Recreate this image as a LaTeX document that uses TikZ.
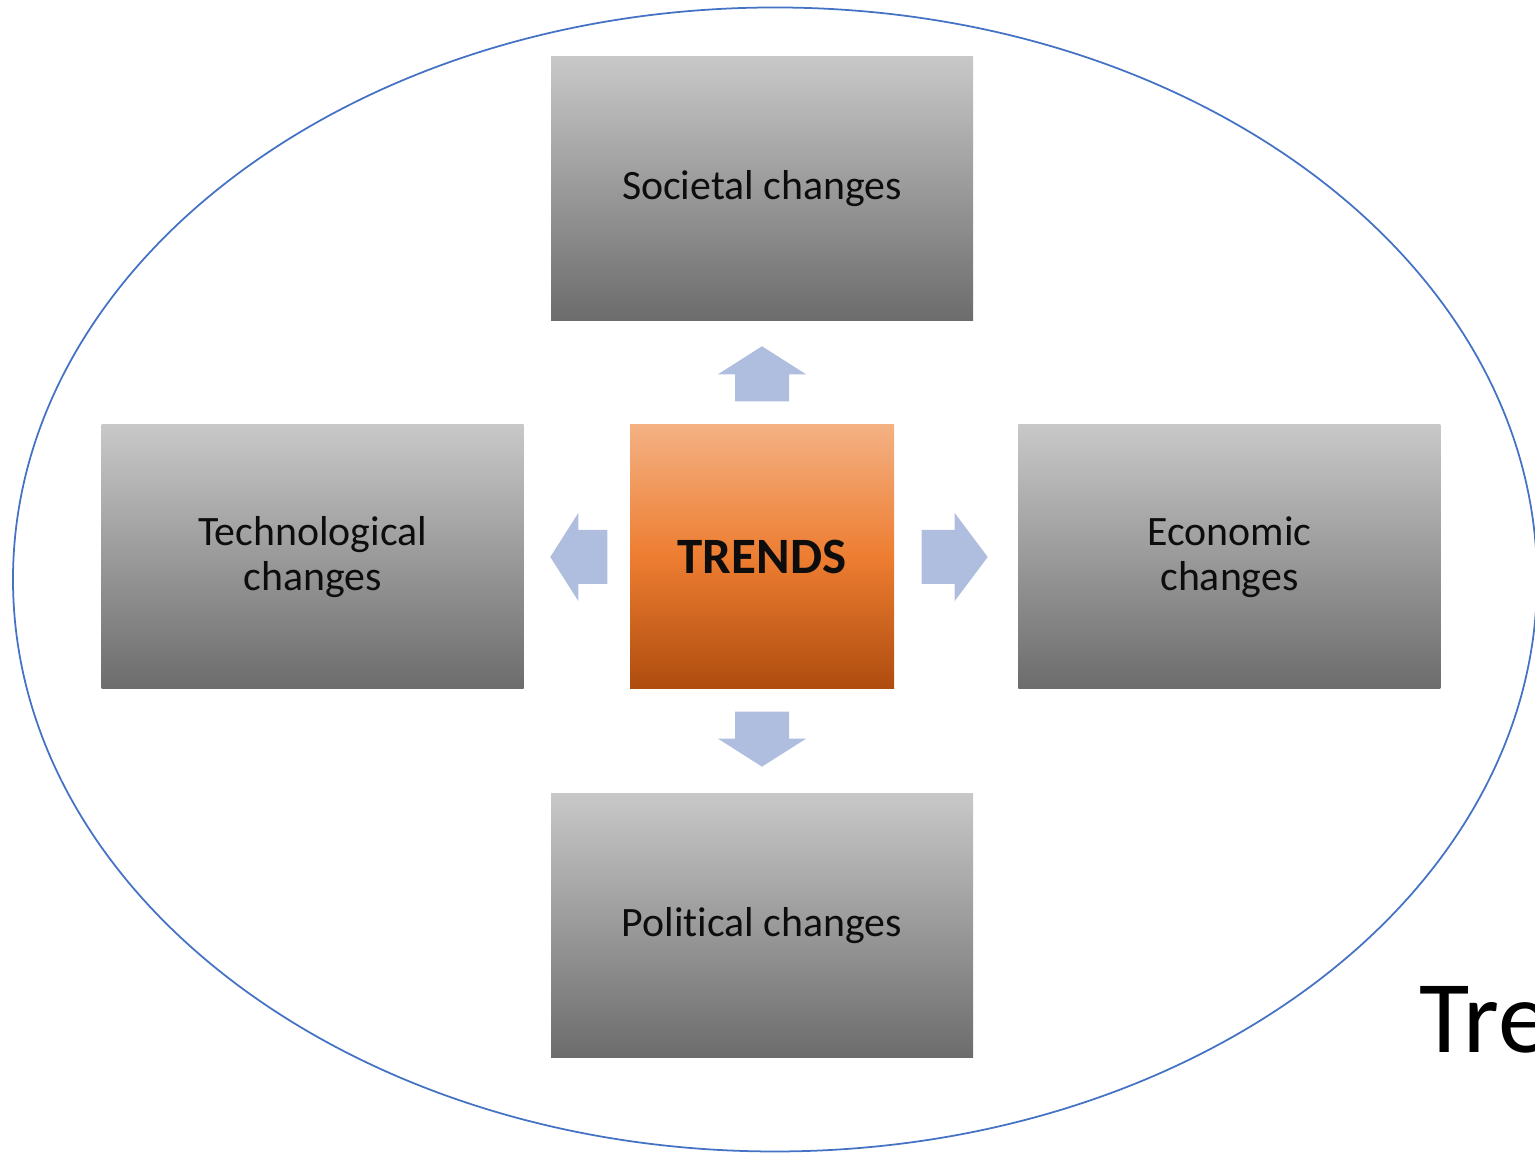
\documentclass[tikz,border=0pt]{standalone}
\usepackage{fontspec}
\setmainfont{Carlito}[Ligatures=NoCommon]
\usetikzlibrary{positioning,calc}
\definecolor{boxTop}{RGB}{200,200,200}
\definecolor{boxBottom}{RGB}{108,108,108}
\definecolor{trTop}{RGB}{244,177,131}
\definecolor{trMid}{RGB}{237,125,49}
\definecolor{trBottom}{RGB}{174,76,14}
\definecolor{arrowBlue}{RGB}{175,189,223}
\definecolor{ringBlue}{RGB}{68,114,196}
\definecolor{ink}{RGB}{13,13,13}
% block arrow: base point, angle, length, head length
\newcommand{\blockArrow}[4]{%
  \fill[arrowBlue, shift={#1}, rotate=#2]
    (0,-0.27) -- ({#3-#4},-0.27) -- ({#3-#4},-0.44) -- (#3,0)
    -- ({#3-#4},0.44) -- ({#3-#4},0.27) -- (0,0.27) -- cycle;}

\begin{document}
\begin{tikzpicture}
  \tikzset{change/.style={minimum width=4.22cm, minimum height=2.64cm, inner sep=0pt,
      align=center, text=ink, top color=boxTop, bottom color=boxBottom,
      font=\fontsize{11.9}{12.8}\selectfont},
    trend/.style={minimum width=2.64cm, minimum height=2.64cm, inner sep=0pt,
      text=ink, top color=trTop, bottom color=trBottom, middle color=trMid,
      font=\fontsize{14.5}{16}\selectfont\bfseries}}
  \useasboundingbox (0,0) rectangle (15.35,11.53);
  \clip (0,0) rectangle (15.35,11.53);
  \draw[ringBlue, line width=0.5pt] (7.75,5.735) ellipse [x radius=7.62cm, y radius=5.72cm];
  \node[trend] (TR) at (7.62,5.96) {TRENDS};
  \node[change, above=1.03cm of TR] (SOC) {Societal changes};
  \node[change, below=1.03cm of TR] (POL) {Political changes};
  \node[change, left=1.05cm of TR] (TECH) {Technological\\changes};
  \node[change, right=1.23cm of TR] (ECON) {Economic\\changes};
  \blockArrow{($(TR.north)+(0,0.23)$)}{90}{0.55}{0.28}
  \blockArrow{($(TR.south)+(0,-0.22)$)}{-90}{0.55}{0.28}
  \blockArrow{($(TR.west)+(-0.22,0)$)}{180}{0.57}{0.28}
  \blockArrow{($(TR.east)+(0.27,0)$)}{0}{0.66}{0.33}
  \node[anchor=base west, inner sep=0pt, font=\fontsize{29.3}{32}\selectfont] (TITLE) at (14.19,1.00) {Trends};
\end{tikzpicture}
\end{document}
